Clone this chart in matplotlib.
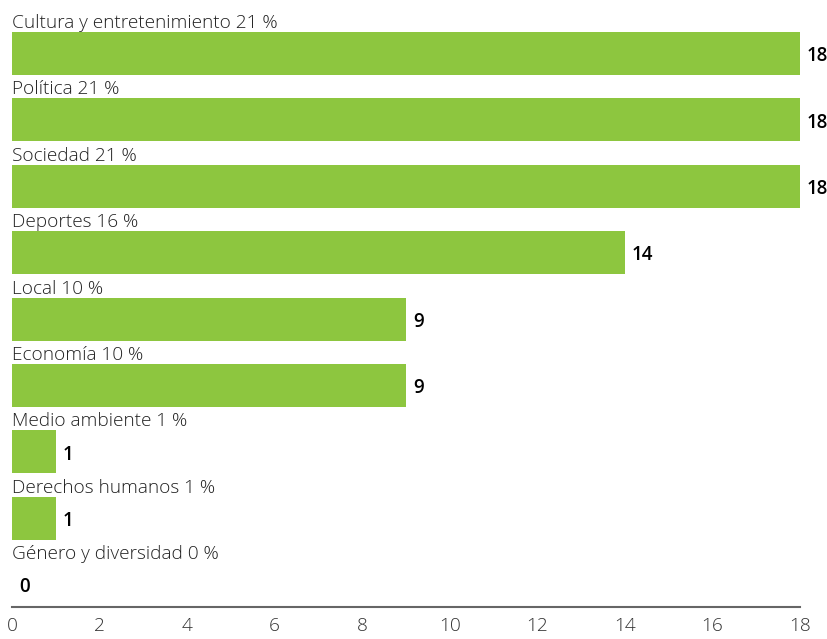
import numpy as np
import matplotlib.pyplot as plt

categorias = ['Cultura y entretenimiento', 'Política', 'Sociedad', 'Deportes', 'Local',
              'Economía', 'Medio ambiente', 'Derechos humanos', 'Género y diversidad']
valores = [18, 18, 18, 14, 9, 9, 1, 1, 0]
porcentajes = [21, 21, 21, 16, 10, 10, 1, 1, 0]

verde = '#8dc63f'
alto = 0.648

fig = plt.figure(figsize=(8.28, 6.39), dpi=100)
ax = fig.add_axes([12 / 828, 32 / 639, 788 / 828, 607 / 639])

y = np.arange(len(categorias))
ax.barh(y, valores, height=alto, color=verde)

for i, (cat, v, p) in enumerate(zip(categorias, valores, porcentajes)):
    ax.text(0, i - alto / 2 - 0.06, f'{cat} {p} %', ha='left', va='baseline',
            fontsize=13.7, family='Open Sans', fontweight='light', color='#222222')
    ax.text(v + 0.16, i + 0.04, str(v), ha='left', va='center',
            fontsize=13.5, family='Open Sans', fontweight='semibold', color='black')

ax.set_xlim(0, 18)
ax.set_ylim(8.336, -0.806)
ax.set_xticks(range(0, 19, 2))
ax.tick_params(axis='x', length=0, pad=7, labelsize=13.7, labelcolor='#333333')
for lbl in ax.get_xticklabels():
    lbl.set_family('Open Sans')
    lbl.set_fontweight('light')
ax.set_yticks([])
for s in ['top', 'right', 'left']:
    ax.spines[s].set_visible(False)
ax.spines['bottom'].set_color('#666666')
ax.spines['bottom'].set_linewidth(1.5)

fig.savefig('out.png', dpi=100)
